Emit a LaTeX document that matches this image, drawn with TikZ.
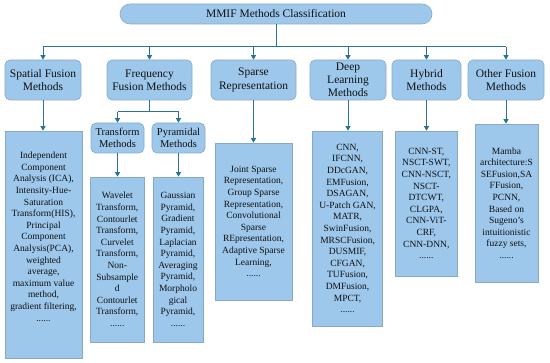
\documentclass[tikz,border=0pt]{standalone}
\usepackage{fontspec}
\setmainfont{Liberation Serif}
\usetikzlibrary{arrows.meta}
\definecolor{boxfill}{HTML}{9DC8EC}
\definecolor{boxline}{HTML}{86A9C6}
\definecolor{conn}{HTML}{2A7395}
\definecolor{txt}{HTML}{101010}
\tikzset{
  basebox/.style={draw=boxline, line width=0.6pt, fill=boxfill, text=txt, align=center, inner sep=0pt},
  pill/.style={basebox, rounded corners=10pt, font=\fontsize{11.5}{13.5}\selectfont},
  catbox/.style={basebox, rounded corners=5pt, font=\fontsize{11.5}{13.2}\selectfont},
  subbox/.style={basebox, rounded corners=5pt, font=\fontsize{10.5}{12}\selectfont},
  leafbox/.style={basebox, font=\fontsize{9.5}{11.6}\selectfont},
  wire/.style={draw=conn, line width=1pt},
  arr/.style={wire, -{Triangle[length=4.5pt,width=5pt]}}
}
\begin{document}
\begin{tikzpicture}[x=1pt,y=-1pt]
\useasboundingbox (0,0) rectangle (550,363);
% top
\node[pill, minimum width=312, minimum height=20] (top) at (276,14) {MMIF Methods Classification};
% categories
\node[catbox, minimum width=76, minimum height=40] (sp) at (43,80) {Spatial Fusion\\Methods};
\node[catbox, minimum width=85, minimum height=40] (fr) at (149.5,80) {Frequency\\Fusion Methods};
\node[catbox, minimum width=85, minimum height=40] (sr) at (253.5,80) {Sparse\\Representation};
\node[catbox, minimum width=76, minimum height=40] (dl) at (348,80) {Deep\\Learning\\Methods};
\node[catbox, minimum width=69, minimum height=40] (hy) at (426.5,80) {Hybrid\\Methods};
\node[catbox, minimum width=76, minimum height=40] (ot) at (506,80) {Other Fusion\\Methods};
% sub categories
\node[subbox, minimum width=53, minimum height=30] (tr) at (117.5,138) {Transform\\Methods};
\node[subbox, minimum width=53, minimum height=30] (py) at (178.5,138) {Pyramidal\\Methods};
% leaves
\node[leafbox, minimum width=77, minimum height=227] (spL) at (43.5,244.5) {Independent\\Component\\Analysis (ICA),\\Intensity-Hue-\\Saturation\\Transform(HIS),\\Principal\\Component\\Analysis(PCA),\\weighted\\average,\\maximum value\\method,\\gradient filtering,\\......\\[4pt]};
\node[leafbox, minimum width=53.5, minimum height=165] (trL) at (117.3,259.5) {Wavelet\\Transform,\\Contourlet\\Transform,\\Curvelet\\Transform,\\Non-\\Subsample\\d\\Contourlet\\Transform,\\......};
\node[leafbox, minimum width=50, minimum height=165] (pyL) at (178,259.5) {Gaussian\\Pyramid,\\Gradient\\Pyramid,\\Laplacian\\Pyramid,\\Averaging\\Pyramid,\\Morpholo\\gical\\Pyramid,\\......};
\node[leafbox, minimum width=77, minimum height=157] (srL) at (253.5,221.5) {Joint Sparse\\Representation,\\Group Sparse\\Representation,\\Convolutional\\Sparse\\REpresentation,\\Adaptive Sparse\\Learning,\\......};
\node[leafbox, minimum width=70, minimum height=195] (dlL) at (347.6,228.5) {CNN,\\IFCNN,\\DDcGAN,\\EMFusion,\\DSAGAN,\\U-Patch GAN,\\MATR,\\SwinFusion,\\MRSCFusion,\\DUSMIF,\\CFGAN,\\TUFusion,\\DMFusion,\\MPCT,\\......};
\node[leafbox, minimum width=62.7, minimum height=145] (hyL) at (426.3,203.5) {CNN-ST,\\NSCT-SWT,\\CNN-NSCT,\\NSCT-\\DTCWT,\\CLGPA,\\CNN-ViT-\\CRF,\\CNN-DNN,\\......};
\node[leafbox, minimum width=63, minimum height=158] (otL) at (506.5,203) {Mamba\\architecture:S\\SEFusion,SA\\FFusion,\\PCNN,\\Based on\\Sugeno's\\intuitionistic\\fuzzy sets,\\......};
% top bus
\coordinate (bus) at (276,47);
\draw[wire] (top.south) -- (bus);
\draw[wire] (sp.north |- bus) -- (ot.north |- bus);
\foreach \n in {sp,fr,sr,dl,hy,ot} \draw[arr] (\n.north |- bus) -- (\n.north);
% frequency bus
\coordinate (fb) at (149.5,112);
\draw[wire] (fr.south) -- (fb);
\draw[wire] (tr.north |- fb) -- (py.north |- fb);
\draw[arr] (tr.north |- fb) -- (tr.north);
\draw[arr] (py.north |- fb) -- (py.north);
% leaves
\draw[arr] (sp.south) -- (sp.south |- spL.north);
\draw[arr] (tr.south) -- (tr.south |- trL.north);
\draw[arr] (py.south) -- (py.south |- pyL.north);
\draw[arr] (sr.south) -- (sr.south |- srL.north);
\draw[arr] (dl.south) -- (dl.south |- dlL.north);
\draw[arr] (hy.south) -- (hy.south |- hyL.north);
\draw[arr] (ot.south) -- (ot.south |- otL.north);
\end{tikzpicture}
\end{document}
